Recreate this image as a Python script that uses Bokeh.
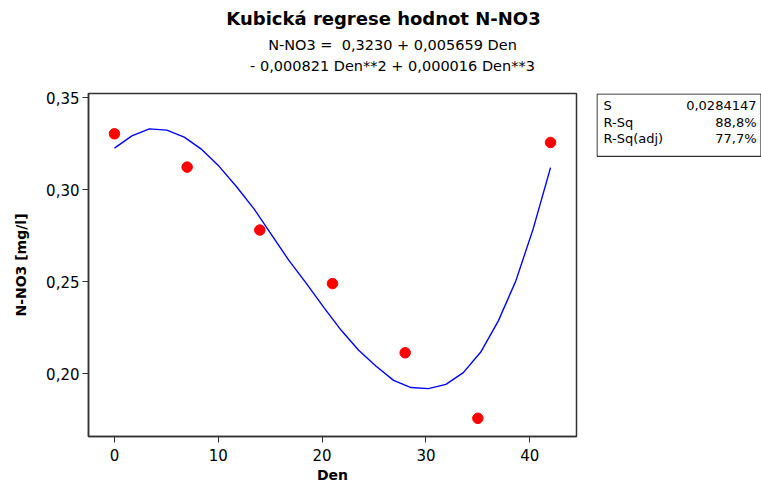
from bokeh.plotting import figure
from bokeh.layouts import column, row
from bokeh.models import (FixedTicker, CustomJSTickFormatter, Range1d,
                          ColumnDataSource)
from bokeh.core.properties import value
from bokeh.embed import file_html
from bokeh.resources import INLINE

# ---- data ----
den = [0, 7, 14, 21, 28, 35, 42]
n_no3 = [0.3303, 0.3122, 0.2780, 0.2489, 0.2113, 0.1757, 0.3256]

fit_den = [0.00, 1.68, 3.36, 5.04, 6.72, 8.40, 10.08, 11.76, 13.44, 15.12,
           16.80, 18.48, 20.16, 21.84, 23.52, 25.20, 26.88, 28.56, 30.24,
           31.92, 33.60, 35.28, 36.96, 38.64, 40.32, 42.00]
fit_n_no3 = [0.3225, 0.3292, 0.3330, 0.3323, 0.3285, 0.3218, 0.3126, 0.3015,
             0.2895, 0.2755, 0.2615, 0.2490, 0.2360, 0.2235, 0.2127, 0.2040,
             0.1963, 0.1924, 0.1918, 0.1941, 0.2005, 0.2117, 0.2285, 0.2501,
             0.2785, 0.3119]

x_ticks = [0, 10, 20, 30, 40]
y_ticks = [0.20, 0.25, 0.30, 0.35]

title_text = "Kubická regrese hodnot N-NO3"
eq_line1 = "N-NO3 = \u00a00,3230 + 0,005659 Den"
eq_line2 = "- 0,000821 Den**2 + 0,000016 Den**3"

stats_names = ["S", "R-Sq", "R-Sq(adj)"]
stats_values = ["0,0284147", "88,8%", "77,7%"]

FONT = "DejaVu Sans"
W, H = 761, 485
TOP_H = 83
MAIN_W = 596
FRAME_H = 344   # height of the main plot frame (aligned in the row)


def bare(fig):
    fig.min_border = 0
    fig.outline_line_color = None
    fig.background_fill_color = "white"
    fig.border_fill_color = "white"
    return fig


# ---- title block (pixel-like coordinates, y downwards) ----
top = bare(figure(width=W, height=TOP_H, output_backend="svg", title=None,
                  toolbar_location=None, x_range=Range1d(0, W),
                  y_range=Range1d(TOP_H, 0), x_axis_type=None,
                  y_axis_type=None))
top.text(x=[383], y=[18], text=[title_text], text_font=value(FONT),
         text_font_size="18px", text_font_style="bold", text_color="black",
         text_align="center", text_baseline="middle")
top.text(x=[392, 392], y=[44, 65], text=[eq_line1, eq_line2],
         text_font=value(FONT), text_font_size="14.5px", text_color="black",
         text_align="center", text_baseline="middle")

# ---- main plot ----
p = figure(width=MAIN_W, height=H - TOP_H, output_backend="svg",
           toolbar_location=None, title=None,
           x_range=Range1d(-2.5, 44.5), y_range=Range1d(0.1658, 0.3522),
           min_border_left=88, min_border_right=20, min_border_top=10,
           min_border_bottom=48)
p.background_fill_color = "white"
p.border_fill_color = "white"
p.outline_line_color = "#333333"
p.outline_line_width = 1.5
p.xgrid.visible = False
p.ygrid.visible = False

src_pts = ColumnDataSource(dict(x=den, y=n_no3))
src_fit = ColumnDataSource(dict(x=fit_den, y=fit_n_no3))
p.line("x", "y", source=src_fit, line_color="#0000ff", line_width=1.4)
p.scatter("x", "y", source=src_pts, size=10.5, fill_color="#ff0000",
          line_color="#ff0000")

for ax in (p.xaxis[0], p.yaxis[0]):
    ax.axis_line_color = "#333333"
    ax.axis_line_width = 1.5
    ax.major_tick_line_color = "#333333"
    ax.major_tick_out = 6
    ax.major_tick_in = 0
    ax.minor_tick_line_color = None
    ax.major_label_text_font = FONT
    ax.major_label_text_font_size = "15px"
    ax.major_label_text_color = "black"
    ax.axis_label_text_font = FONT
    ax.axis_label_text_font_size = "14px"
    ax.axis_label_text_font_style = "bold"
    ax.axis_label_text_color = "black"

p.xaxis.ticker = FixedTicker(ticks=x_ticks)
p.yaxis.ticker = FixedTicker(ticks=y_ticks)
p.yaxis.formatter = CustomJSTickFormatter(
    code="return tick.toFixed(2).replace('.', ',');")
p.xaxis.axis_label = "Den"
p.yaxis.axis_label = "N-NO3 [mg/l]"
p.xaxis.major_label_standoff = 6
p.xaxis.axis_label_standoff = 3
p.yaxis.major_label_standoff = 3
p.yaxis.axis_label_standoff = 14

# ---- statistics box (its frame is aligned with the main plot frame) ----
SW = W - MAIN_W
s = bare(figure(width=SW, height=H - TOP_H, output_backend="svg", title=None,
                toolbar_location=None, x_range=Range1d(0, SW),
                y_range=Range1d(FRAME_H, 0), x_axis_type=None,
                y_axis_type=None))
s.quad(left=[0.5], right=[164.5], top=[0.5], bottom=[63], fill_color="white",
       line_color="black", line_width=1)
row_y = [12, 28.7, 45.3]
s.text(x=[7] * 3, y=row_y, text=stats_names, text_font=value(FONT),
       text_font_size="13px", text_color="black", text_align="left",
       text_baseline="middle")
s.text(x=[160] * 3, y=row_y, text=stats_values, text_font=value(FONT),
       text_font_size="13px", text_color="black", text_align="right",
       text_baseline="middle")

layout = column(top, row(p, s, spacing=0), spacing=0)
open("out.html", "w").write(file_html(layout, INLINE))
